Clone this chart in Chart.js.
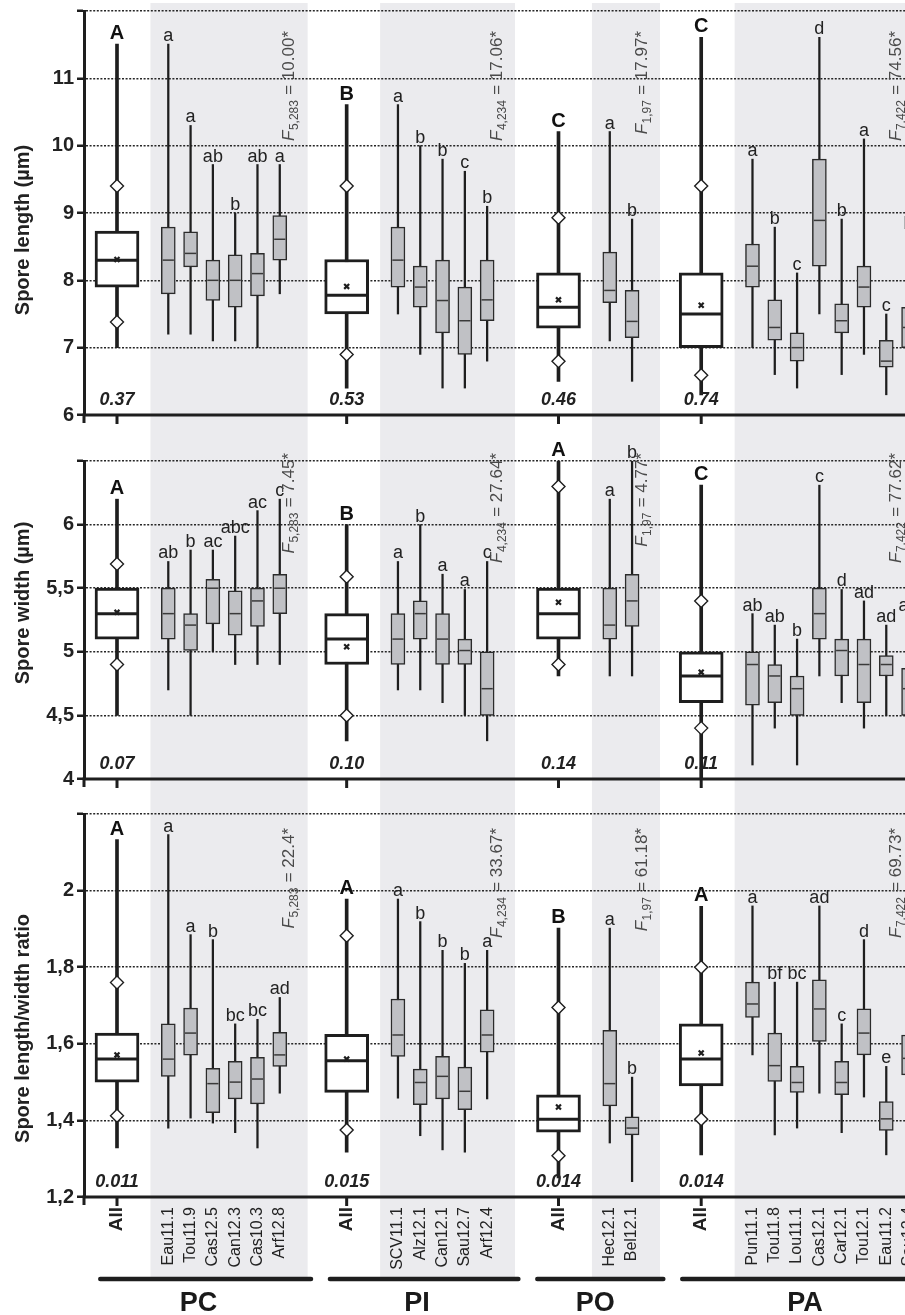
<!DOCTYPE html>
<html>
<head>
<meta charset="utf-8">
<script src="https://cdn.jsdelivr.net/npm/chart.js@4.4.1/dist/chart.umd.min.js"></script>
<style>
  body { margin: 0; background: #fff; width: 905px; height: 1315px; overflow: hidden; position: relative; }
  canvas { position: absolute; left: 0; }
</style>
</head>
<body>
<canvas id="len" width="905" height="438" style="top:0px"></canvas>
<canvas id="wid" width="905" height="362" style="top:438px"></canvas>
<canvas id="rat" width="905" height="515" style="top:800px"></canvas>
<script>
// categories
var groups = ['PC', 'PI', 'PO', 'PA'];
var sitesPC = ['Eau11.1', 'Tou11.9', 'Cas12.5', 'Can12.3', 'Cas10.3', 'Arf12.8'];
var sitesPI = ['SCV11.1', 'Alz12.1', 'Can12.1', 'Sau12.7', 'Arf12.4'];
var sitesPO = ['Hec12.1', 'Bel12.1'];
var sitesPA = ['Pun11.1', 'Tou11.8', 'Lou11.1', 'Cas12.1', 'Car12.1', 'Tou12.1', 'Eau11.2', 'Sau12.4'];
var fDf = ['5,283', '4,234', '1,97', '7,422'];

// spore length (order: All PC, PC sites, All PI, PI sites, All PO, PO sites, All PA, PA sites)
var lenMin = [7.0, 7.2, 7.2, 7.1, 7.1, 7.0, 7.8,  6.4, 7.5, 6.9, 6.4, 6.4, 6.8,  6.5, 7.1, 6.5,  6.3, 7.0, 6.6, 6.4, 7.5, 6.6, 6.9, 6.3, 6.3];
var lenQ1  = [7.9, 7.8, 8.2, 7.7, 7.6, 7.77, 8.3,  7.5, 7.9, 7.6, 7.22, 6.9, 7.4,  7.29, 7.67, 7.15,  7.0, 7.9, 7.11, 6.8, 8.21, 7.22, 7.6, 6.71, 7.0];
var lenMed = [8.3, 8.3, 8.4, 8.0, 8.0, 8.1, 8.61,  7.78, 8.3, 7.9, 7.7, 7.4, 7.71,  7.6, 7.85, 7.39,  7.5, 8.21, 7.3, 7.0, 8.89, 7.4, 7.9, 6.8, 7.3];
var lenQ3  = [8.73, 8.79, 8.72, 8.3, 8.38, 8.4, 8.96,  8.31, 8.79, 8.21, 8.3, 7.9, 8.3,  8.11, 8.42, 7.85,  8.11, 8.54, 7.71, 7.22, 9.8, 7.65, 8.21, 7.11, 7.6];
var lenMax = [11.51, 11.51, 10.3, 9.72, 9.0, 9.72, 9.72,  10.61, 10.61, 10.0, 9.8, 9.62, 9.1,  10.21, 10.21, 8.91,  11.61, 9.8, 8.79, 8.11, 11.61, 8.91, 10.1, 7.5, 8.72];
var lenMean = [8.31, 7.91, 7.71, 7.63];
var lenLow  = [7.38, 6.9, 6.8, 6.59];
var lenHigh = [9.4, 9.4, 8.93, 9.4];
var lenLetters = ['A', 'a', 'a', 'ab', 'b', 'ab', 'a',  'B', 'a', 'b', 'b', 'c', 'b',  'C', 'a', 'b',  'C', 'a', 'b', 'c', 'd', 'b', 'a', 'c', 'b'];
var lenF = ['10.00', '17.06', '17.97', '74.56'];
var lenR = ['0.37', '0.53', '0.46', '0.74'];

// spore width
var widMin = [4.5, 4.7, 4.5, 5.0, 4.9, 4.9, 4.9,  4.3, 4.7, 4.7, 4.6, 4.5, 4.3,  4.81, 4.81, 4.81,  4.0, 4.11, 4.4, 4.11, 4.81, 4.6, 4.4, 4.5, 4.0];
var widQ1  = [5.1, 5.1, 5.01, 5.22, 5.13, 5.2, 5.3,  4.9, 4.9, 5.1, 4.9, 4.9, 4.5,  5.1, 5.1, 5.2,  4.6, 4.58, 4.6, 4.5, 5.1, 4.81, 4.6, 4.81, 4.5];
var widMed = [5.3, 5.3, 5.21, 5.5, 5.3, 5.4, 5.5,  5.1, 5.1, 5.3, 5.1, 5.01, 4.71,  5.3, 5.21, 5.4,  4.81, 4.9, 4.81, 4.71, 5.3, 5.01, 4.9, 4.9, 4.71];
var widQ3  = [5.5, 5.5, 5.3, 5.57, 5.48, 5.5, 5.61,  5.3, 5.3, 5.4, 5.3, 5.1, 5.0,  5.5, 5.5, 5.61,  5.0, 5.0, 4.9, 4.81, 5.5, 5.1, 5.1, 4.97, 4.87];
var widMax = [6.2, 5.71, 5.8, 5.8, 5.91, 6.11, 6.2,  6.0, 5.71, 6.0, 5.61, 5.49, 5.71,  6.5, 6.2, 6.5,  6.31, 5.3, 5.21, 5.1, 6.31, 5.49, 5.4, 5.21, 5.3];
var widMean = [5.31, 5.04, 5.39, 4.84];
var widLow  = [4.9, 4.5, 4.9, 4.4];
var widHigh = [5.69, 5.59, 6.3, 5.4];
var widLetters = ['A', 'ab', 'b', 'ac', 'abc', 'ac', 'c',  'B', 'a', 'b', 'a', 'a', 'c',  'A', 'a', 'b',  'C', 'ab', 'ab', 'b', 'c', 'd', 'ad', 'ad', 'ab'];
var widF = ['7.45', '27.64', '4.77', '77.62'];
var widR = ['0.07', '0.10', '0.14', '0.11'];

// spore length/width ratio
var ratMin = [1.328, 1.38, 1.406, 1.393, 1.368, 1.328, 1.471,  1.317, 1.458, 1.36, 1.323, 1.317, 1.456,  1.25, 1.341, 1.24,  1.31, 1.571, 1.362, 1.38, 1.471, 1.368, 1.461, 1.31, 1.419];
var ratQ1  = [1.50, 1.515, 1.57, 1.42, 1.456, 1.443, 1.541,  1.473, 1.567, 1.441, 1.456, 1.428, 1.578,  1.369, 1.438, 1.362,  1.49, 1.669, 1.502, 1.473, 1.606, 1.467, 1.571, 1.374, 1.519];
var ratMed = [1.56, 1.56, 1.628, 1.496, 1.50, 1.508, 1.571,  1.556, 1.623, 1.499, 1.515, 1.476, 1.623,  1.403, 1.496, 1.38,  1.56, 1.704, 1.543, 1.499, 1.691, 1.499, 1.628, 1.404, 1.562];
var ratQ3  = [1.628, 1.652, 1.693, 1.536, 1.554, 1.565, 1.63,  1.625, 1.717, 1.534, 1.567, 1.539, 1.689,  1.467, 1.635, 1.409,  1.652, 1.761, 1.628, 1.541, 1.767, 1.554, 1.691, 1.449, 1.623];
var ratMax = [2.133, 2.146, 1.885, 1.872, 1.652, 1.664, 1.721,  1.978, 1.978, 1.919, 1.844, 1.81, 1.844,  1.902, 1.902, 1.513,  1.959, 1.96, 1.761, 1.761, 1.96, 1.652, 1.872, 1.541, 1.748];
var ratMean = [1.571, 1.56, 1.435, 1.576];
var ratLow  = [1.412, 1.375, 1.308, 1.403];
var ratHigh = [1.76, 1.882, 1.695, 1.80];
var ratLetters = ['A', 'a', 'a', 'b', 'bc', 'bc', 'ad',  'A', 'a', 'b', 'b', 'b', 'a',  'B', 'a', 'b',  'A', 'a', 'bf', 'bc', 'ad', 'c', 'd', 'e', 'f'];
var ratF = ['22.4', '33.67', '61.18', '69.73'];
var ratR = ['0.011', '0.015', '0.014', '0.014'];

// ---- layout on the x scale (units of one site slot) ----
var FONT = '"Liberation Sans", Arial, sans-serif';
var INK = '#1e1e1e';
var SHADE = '#ebebee';
var BOX = '#c0c1c5';
var X_MIN = -1.48, X_MAX = 35.34;
var groupSites = [sitesPC, sitesPI, sitesPO, sitesPA];
var categories = [];
var xPos = [], allIdx = [], siteIdx = [];
var gaps = [3.0, 3.2, 3.1];
var p = 0;
groupSites.forEach(function (sites, g) {
    if (g) p += gaps[g - 1];
    allIdx.push(xPos.length); xPos.push(p); categories.push('All');
    p += 1.3;
    sites.forEach(function (s) {
        p += 1;
        siteIdx.push(xPos.length); xPos.push(p); categories.push(s);
    });
});
function firstSite(g) { return xPos[allIdx[g] + 1]; }
function lastSite(g) { return xPos[allIdx[g] + groupSites[g].length]; }
function shadeL(g) { return firstSite(g) - 0.8; }
function shadeR(g) { return lastSite(g) + 1.25; }

function fmt(v) { return String(+v.toFixed(2)).replace('.', ','); }

function drawF(ctx, x, yEnd, df, val) {
    var ital = 'italic 17px ' + FONT, sub = '12px ' + FONT, main = '17px ' + FONT;
    var rest = ' = ' + val + '*';
    ctx.font = ital; var wF = ctx.measureText('F').width;
    ctx.font = sub; var wS = ctx.measureText(df).width;
    ctx.font = main; var wR = ctx.measureText(rest).width;
    var total = wF + wS + wR + 1;
    ctx.save();
    ctx.translate(x, yEnd + total);
    ctx.rotate(-Math.PI / 2);
    ctx.fillStyle = '#4a4a4a';
    ctx.textAlign = 'left';
    ctx.textBaseline = 'alphabetic';
    ctx.font = ital; ctx.fillText('F', 0, 0);
    ctx.font = sub; ctx.fillText(df, wF + 0.5, 4);
    ctx.font = main; ctx.fillText(rest, wF + wS + 1, 0);
    ctx.restore();
}

function makeDeco(o) {
    return {
        id: 'deco',
        beforeDraw: function (chart) {
            var ctx = chart.ctx, xs = chart.scales.x;
            ctx.save();
            ctx.fillStyle = SHADE;
            groups.forEach(function (name, g) {
                var a = xs.getPixelForValue(shadeL(g)), b = xs.getPixelForValue(shadeR(g));
                ctx.fillRect(a, o.shadeTop, b - a, o.shadeBottom - o.shadeTop);
            });
            ctx.restore();
        },
        afterDraw: function (chart) {
            var ctx = chart.ctx, ca = chart.chartArea, xs = chart.scales.x, ys = chart.scales.y;
            var px = function (v) { return xs.getPixelForValue(v); };
            ctx.save();
            // bottom axis and ticks under "All"
            ctx.strokeStyle = INK; ctx.lineWidth = 3;
            ctx.beginPath();
            ctx.moveTo(ca.left - 1.5, ca.bottom); ctx.lineTo(chart.width, ca.bottom);
            ctx.moveTo(ca.left, ca.bottom); ctx.lineTo(ca.left, ca.bottom + 8);
            allIdx.forEach(function (i) {
                ctx.moveTo(px(xPos[i]), ca.bottom); ctx.lineTo(px(xPos[i]), ca.bottom + 9);
            });
            ctx.stroke();

            // significance letters
            ctx.textAlign = 'center'; ctx.textBaseline = 'alphabetic';
            xPos.forEach(function (x, i) {
                var isAll = allIdx.indexOf(i) >= 0;
                ctx.font = (isAll ? 'bold 20px ' : '18px ') + FONT;
                ctx.fillStyle = isAll ? '#111' : '#222';
                ctx.fillText(o.letters[i], px(x), ys.getPixelForValue(o.max[i]) - (isAll ? 5 : 3));
            });

            // values under "All"
            ctx.font = 'bold italic 18px ' + FONT; ctx.fillStyle = '#222';
            allIdx.forEach(function (i, g) {
                ctx.fillText(o.r[g], px(xPos[i]), ca.bottom - 10);
            });

            // F statistics
            groups.forEach(function (name, g) {
                var fx = Math.min(lastSite(g) + 0.65, X_MAX - 0.2);
                drawF(ctx, px(fx), ca.top + o.fEnd, fDf[g], o.f[g]);
            });

            // axis title
            ctx.save();
            ctx.translate(29, (ca.top + ca.bottom) / 2 + o.titleShift);
            ctx.rotate(-Math.PI / 2);
            ctx.font = 'bold 20px ' + FONT; ctx.fillStyle = '#222';
            ctx.textAlign = 'center'; ctx.textBaseline = 'alphabetic';
            ctx.fillText(o.title, 0, 0);
            ctx.restore();

            if (o.labels) {
                // category labels
                xPos.forEach(function (x, i) {
                    var isAll = allIdx.indexOf(i) >= 0;
                    ctx.save();
                    ctx.translate(px(x), ca.bottom + 10);
                    ctx.rotate(-Math.PI / 2);
                    ctx.font = (isAll ? 'bold 19px ' : '16px ') + FONT;
                    ctx.fillStyle = '#222';
                    ctx.textAlign = 'right'; ctx.textBaseline = 'middle';
                    ctx.fillText(categories[i], 0, 0);
                    ctx.restore();
                });
                // group underlines and names
                var uy = ca.bottom + 82;
                var prevEnd = null;
                ctx.strokeStyle = INK; ctx.lineWidth = 4.5; ctx.lineCap = 'round';
                groups.forEach(function (name, g) {
                    var a = prevEnd === null ? xPos[allIdx[g]] - 0.75 : prevEnd + 0.85;
                    var b = shadeR(g) + 0.15;
                    ctx.beginPath(); ctx.moveTo(px(a), uy); ctx.lineTo(px(b), uy); ctx.stroke();
                    prevEnd = b;
                    ctx.font = 'bold 27px ' + FONT; ctx.fillStyle = '#1a1a1a';
                    ctx.textAlign = 'center'; ctx.textBaseline = 'alphabetic';
                    ctx.fillText(name, px((xPos[allIdx[g]] + lastSite(g)) / 2), ca.bottom + 114);
                });
            }
            ctx.restore();
        }
    };
}

function makePanel(id, o) {
    var pts = function (idx, arr) { return idx.map(function (i) { return {x: xPos[i], y: arr[i]}; }); };
    var rng = function (idx, a, b) { return idx.map(function (i) { return {x: xPos[i], y: [a[i], b[i]]}; }); };
    var datasets = [
        {type: 'bar', data: rng(allIdx, o.min, o.max), backgroundColor: INK, barThickness: 3, grouped: false, order: 6},
        {type: 'bar', data: rng(siteIdx, o.min, o.max), backgroundColor: INK, barThickness: 1.6, grouped: false, order: 6},
        {type: 'bar', data: rng(allIdx, o.q1, o.q3), backgroundColor: '#ffffff', borderColor: INK, borderWidth: 3,
         borderSkipped: false, barThickness: 44, grouped: false, order: 5},
        {type: 'bar', data: rng(siteIdx, o.q1, o.q3), backgroundColor: BOX, borderColor: '#2b2b2b', borderWidth: 1.5,
         borderSkipped: false, barThickness: 14, grouped: false, order: 5},
        {type: 'scatter', data: pts(allIdx, o.med), pointStyle: 'line', pointRadius: 20.5,
         pointBorderColor: INK, pointBorderWidth: 3, order: 4},
        {type: 'scatter', data: pts(siteIdx, o.med), pointStyle: 'line', pointRadius: 5.6,
         pointBorderColor: '#3a3a3a', pointBorderWidth: 1.5, order: 4},
        {type: 'scatter', data: allIdx.map(function (i, k) { return {x: xPos[i], y: o.mean[k]}; }),
         pointStyle: 'crossRot', pointRadius: 3.5, pointBorderColor: INK, pointBorderWidth: 2.2, order: 3},
        {type: 'scatter', data: allIdx.reduce(function (acc, i, k) {
             acc.push({x: xPos[i], y: o.low[k]}); acc.push({x: xPos[i], y: o.high[k]}); return acc; }, []),
         pointStyle: 'rectRot', pointRadius: 6.5, pointBackgroundColor: '#ffffff',
         pointBorderColor: INK, pointBorderWidth: 1.4, order: 2}
    ];
    return new Chart(document.getElementById(id), {
        type: 'bar',
        data: {datasets: datasets},
        options: {
            responsive: false,
            animation: false,
            events: [],
            layout: {autoPadding: false, padding: {left: 0, right: 0, top: o.padTop, bottom: o.padBottom}},
            plugins: {legend: {display: false}, tooltip: {enabled: false}, colors: {enabled: false}},
            scales: {
                x: {type: 'linear', display: false, offset: false, min: X_MIN, max: X_MAX},
                y: {
                    min: o.yMin, max: o.yMax,
                    ticks: {
                        stepSize: o.step, color: '#222', padding: 3,
                        font: {family: FONT, size: 20, weight: 'bold'},
                        callback: function (v) { return Math.abs(v - o.yMax) < 1e-6 ? '' : fmt(v); }
                    },
                    grid: {color: '#262626', lineWidth: 1.5, tickLength: 7, tickWidth: 2.5, tickColor: INK},
                    border: {display: true, color: INK, width: 3, dash: [2, 1.6]},
                    afterFit: function (s) { s.width = 84; s.paddingTop = 0; s.paddingBottom = 0; }
                }
            }
        },
        plugins: [makeDeco(o)]
    });
}

makePanel('len', {
    min: lenMin, q1: lenQ1, med: lenMed, q3: lenQ3, max: lenMax, mean: lenMean, low: lenLow, high: lenHigh,
    letters: lenLetters, f: lenF, r: lenR, title: 'Spore length (\u00b5m)',
    yMin: 6, yMax: 12, step: 1, padTop: 11, padBottom: 23,
    shadeTop: 3, shadeBottom: 438, fEnd: 20, titleShift: 17, labels: false
});
makePanel('wid', {
    min: widMin, q1: widQ1, med: widMed, q3: widQ3, max: widMax, mean: widMean, low: widLow, high: widHigh,
    letters: widLetters, f: widF, r: widR, title: 'Spore width (\u00b5m)',
    yMin: 4, yMax: 6.5, step: 0.5, padTop: 23, padBottom: 21,
    shadeTop: 0, shadeBottom: 362, fEnd: -8, titleShift: -17, labels: false
});
makePanel('rat', {
    min: ratMin, q1: ratQ1, med: ratMed, q3: ratQ3, max: ratMax, mean: ratMean, low: ratLow, high: ratHigh,
    letters: ratLetters, f: ratF, r: ratR, title: 'Spore length/width ratio',
    yMin: 1.2, yMax: 2.2, step: 0.2, padTop: 14, padBottom: 118,
    shadeTop: 0, shadeBottom: 480, fEnd: 14, titleShift: 23, labels: true
});
</script>
</body>
</html>
